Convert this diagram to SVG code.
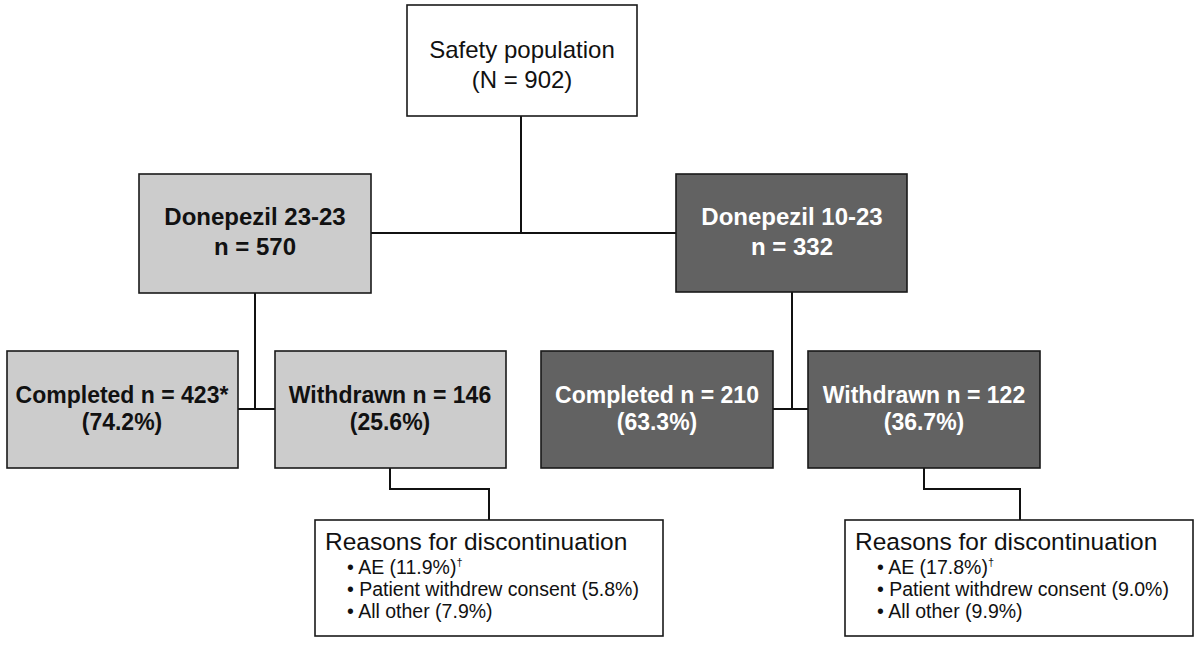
<svg xmlns="http://www.w3.org/2000/svg" width="1200" height="645" viewBox="0 0 1200 645">
<style>
.box{stroke:#1a1a1a;stroke-width:1.6}
.white{fill:#ffffff}
.light{fill:#cccccc}
.dark{fill:#626262}
.t{font-family:"Liberation Sans",Arial,Helvetica,sans-serif;text-anchor:middle}
.b{font-weight:bold;font-size:23px}
.bw{fill:#ffffff}
.bk{fill:#111111}
.r{font-family:"Liberation Sans",Arial,Helvetica,sans-serif;fill:#111111}
.conn{stroke:#111111;stroke-width:2;fill:none}
</style>
<rect width="1200" height="645" fill="#ffffff"/>
<g id="connectors">
<path class="conn" d="M521 116 V233"/>
<path class="conn" d="M371 233 H676"/>
<path class="conn" d="M255 293 V409"/>
<path class="conn" d="M238 409 H275"/>
<path class="conn" d="M792 292 V409"/>
<path class="conn" d="M773 409 H808"/>
<path class="conn" d="M390 468 V489 H489 V520"/>
<path class="conn" d="M924 468 V489 H1020 V520"/>
</g>
<g id="safety">
<rect class="box white" x="407" y="5" width="230" height="111"/>
<text class="t bk" x="522" y="58" font-size="24">Safety population</text>
<text class="t bk" x="522" y="88" font-size="24">(N = 902)</text>
</g>
<g id="d2323">
<rect class="box light" x="139" y="174" width="232" height="119"/>
<text class="t b bk" x="255" y="225" font-size="24" style="font-size:24px">Donepezil 23-23</text>
<text class="t b bk" x="255" y="255" style="font-size:24px">n = 570</text>
</g>
<g id="d1023">
<rect class="box dark" x="676" y="174" width="231" height="118"/>
<text class="t b bw" x="792" y="225" style="font-size:24px">Donepezil 10-23</text>
<text class="t b bw" x="792" y="255" style="font-size:24px">n = 332</text>
</g>
<g id="completed1">
<rect class="box light" x="7" y="351" width="231" height="117"/>
<text class="t b bk" x="122" y="403">Completed n = 423*</text>
<text class="t b bk" x="122" y="430">(74.2%)</text>
</g>
<g id="withdrawn1">
<rect class="box light" x="275" y="351" width="231" height="117"/>
<text class="t b bk" x="390" y="403">Withdrawn n = 146</text>
<text class="t b bk" x="390" y="430">(25.6%)</text>
</g>
<g id="completed2">
<rect class="box dark" x="541" y="351" width="232" height="117"/>
<text class="t b bw" x="657" y="403">Completed n = 210</text>
<text class="t b bw" x="657" y="430">(63.3%)</text>
</g>
<g id="withdrawn2">
<rect class="box dark" x="808" y="351" width="232" height="117"/>
<text class="t b bw" x="924" y="403">Withdrawn n = 122</text>
<text class="t b bw" x="924" y="430">(36.7%)</text>
</g>
<g id="reasons1">
<rect class="box white" x="315" y="520" width="348" height="116"/>
<text class="r" x="325" y="550" font-size="24.5">Reasons for discontinuation</text>
<text class="r" x="347" y="574" font-size="19.5">• AE (11.9%)<tspan font-size="11" dy="-8">†</tspan></text>
<text class="r" x="347" y="596" font-size="19.5">• Patient withdrew consent (5.8%)</text>
<text class="r" x="347" y="618" font-size="19.5">• All other (7.9%)</text>
</g>
<g id="reasons2">
<rect class="box white" x="845" y="520" width="348" height="116"/>
<text class="r" x="855" y="550" font-size="24.5">Reasons for discontinuation</text>
<text class="r" x="877" y="574" font-size="19.5">• AE (17.8%)<tspan font-size="11" dy="-8">†</tspan></text>
<text class="r" x="877" y="596" font-size="19.5">• Patient withdrew consent (9.0%)</text>
<text class="r" x="877" y="618" font-size="19.5">• All other (9.9%)</text>
</g>
</svg>
